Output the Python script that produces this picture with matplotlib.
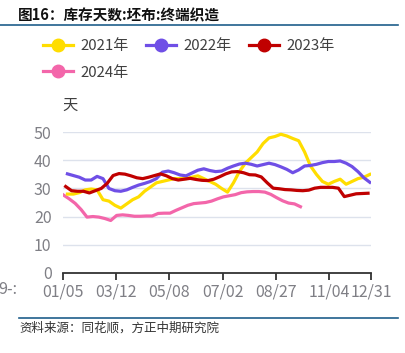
import numpy as np
import matplotlib
matplotlib.use('Agg')
import matplotlib.pyplot as plt
from matplotlib.lines import Line2D

plt.rcParams['font.family'] = ['Noto Sans CJK SC', 'DejaVu Sans']

# weekly inventory days (greige cloth, terminal weaving)
y2021 = [28, 28, 28.5, 29.5, 29.8, 29.5, 26, 25.5, 24, 23, 24.5, 26, 27, 29, 30.5, 32,
         32.5, 33, 33.5, 33.5, 33.5, 34, 34.5, 33.5, 32.5, 31.5, 30, 28.7, 32, 36, 39, 41,
         43, 46, 48, 48.5, 49.3, 48.7, 47.8, 47, 43, 38, 35, 32.5, 31.5, 32.5, 33.3, 31.5,
         32.5, 33.5, 34, 35]
y2022 = [35.2, 34.6, 34, 33, 33, 34.3, 33.5, 30, 29.2, 29, 29.5, 30.4, 31.2, 31.8, 32.5,
         33.5, 35.8, 36.2, 35.6, 34.8, 34.5, 35.5, 36.5, 37, 36.4, 36, 36.2, 37.2, 38, 38.7,
         39, 38.6, 38, 38.5, 39, 38.5, 37.7, 36.8, 35.6, 36.6, 38, 38.2, 38.6, 39.2, 39.6,
         39.6, 39.8, 39, 37.8, 36, 33.8, 32.2]
y2023 = [30.7, 29.2, 29, 29, 28.4, 29.2, 30, 31.8, 34.6, 35.3, 35.1, 34.5, 33.8, 33.5, 34,
         34.6, 35.2, 34.5, 33.5, 33, 33.3, 33.6, 33.2, 32.9, 32.8, 33.3, 34.2, 35.2, 35.9, 36,
         35.6, 34.9, 34.8, 34.1, 32, 30.1, 29.9, 29.6, 29.5, 29.3, 29.2, 29.4, 30.1, 30.4,
         30.4, 30.4, 30.1, 27.1, 27.6, 28.1, 28.2, 28.3]
y2024 = [27.7, 26.3, 24.7, 22.5, 19.8, 20, 19.8, 19.3, 18.6, 20.4, 20.6, 20.4, 20.1, 20.1,
         20.2, 20.2, 21.1, 21.2, 21.2, 22.2, 23.1, 24, 24.6, 24.8, 25, 25.5, 26.3, 27, 27.4,
         27.8, 28.5, 28.8, 28.9, 28.9, 28.7, 27.9, 26.7, 25.6, 24.8, 24.5, 23.5]

tick_labels = ['01/05', '03/12', '05/08', '07/02', '08/27', '11/04', '12/31']
tick_pos = [0, 9, 18, 27, 36, 45, 52]

colors = {'2021年': '#FFDD00', '2022年': '#6F4FE6', '2023年': '#C00000', '2024年': '#F366AA'}

fig = plt.figure(figsize=(4.06, 3.53), dpi=100)
ax = fig.add_axes([0.1544, 0.2275, 0.9138 - 0.1544, 0.6252 - 0.2275])

lw = 2.3
ax.plot(np.arange(len(y2021)) + 0.8, y2021, color=colors['2021年'], lw=lw, zorder=3)
ax.plot(np.arange(len(y2022)) + 0.8, y2022, color=colors['2022年'], lw=lw, zorder=4)
ax.plot(np.arange(len(y2023)) + 0.5, y2023, color=colors['2023年'], lw=lw, zorder=5)
ax.plot(np.arange(len(y2024)) + 0.1, y2024, color=colors['2024年'], lw=lw, zorder=2)

ax.set_xlim(0, 52)
ax.set_ylim(0, 50)
ax.set_yticks([0, 10, 20, 30, 40, 50])
ax.yaxis.grid(True, color='#DDE2EC', lw=1)
ax.set_axisbelow(True)
for s in ['top', 'right', 'left']:
    ax.spines[s].set_visible(False)
ax.spines['bottom'].set_color('#333333')
ax.spines['bottom'].set_linewidth(1.3)
ax.set_xticks(tick_pos)
ax.set_xticklabels(tick_labels)
ax.tick_params(axis='x', length=5, width=1.3, color='#333333', labelsize=11.5,
               labelcolor='#7F7F85', pad=3)
ax.tick_params(axis='y', length=0, labelsize=11.5, labelcolor='#7F7F85', pad=8)
ax.text(0, 1.195, '天', transform=ax.transAxes, fontsize=11, color='#404040',
        ha='left', va='center')

# clipped label at the far left
fig.text(-0.005, 1 - 289 / 353, '9-:', fontsize=11.5, color='#7F7F85', va='center', ha='left')

# legend
order = ['2021年', '2024年', '2022年', '2023年']
handles = [Line2D([], [], color=colors[k], lw=2.3, marker='o', markersize=9) for k in order]
fig.legend(handles, order, loc='upper left', bbox_to_anchor=(0.105, 0.89), ncol=3,
           frameon=False, fontsize=10.8, handlelength=2.0, handletextpad=0.5,
           columnspacing=1.15, labelspacing=0.85, borderpad=0, borderaxespad=0,
           labelcolor='#404040')

# title and decorations
fig.text(18 / 406, 1 - 15 / 353, '图16：库存天数:坯布:终端织造', fontsize=10.5,
         fontweight='bold', color='#111111', ha='left', va='center')
fig.add_artist(Line2D([0, 398 / 406], [1 - 25 / 353] * 2, color='#1F5F8B', lw=1.2))
fig.add_artist(Line2D([19 / 406, 398 / 406], [1 - 318 / 353] * 2, color='#1F5F8B', lw=1.2))
fig.text(19 / 406, 1 - 328 / 353, '资料来源：同花顺，方正中期研究院', fontsize=9,
         style='italic', color='#333333', ha='left', va='center')

fig.savefig('out.png', dpi=100)
